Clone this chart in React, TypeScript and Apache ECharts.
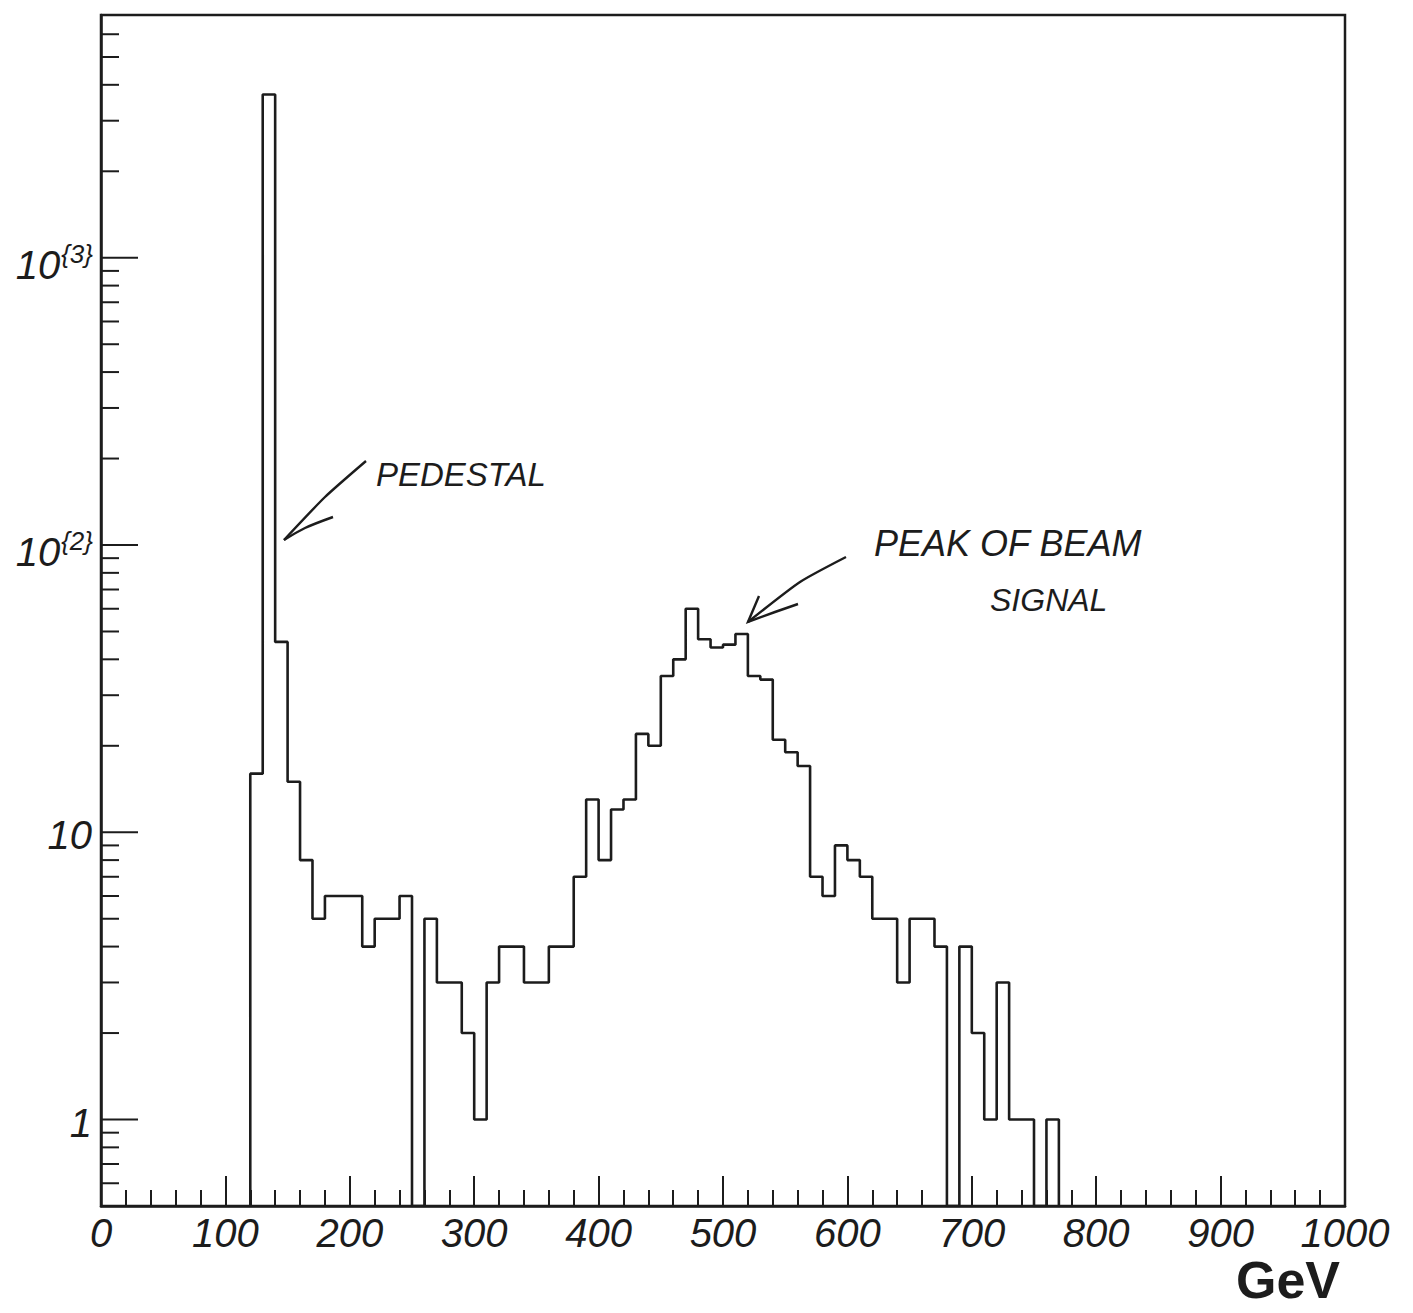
import React, { useEffect, useRef } from 'react';
import * as echarts from 'echarts';

// ---- data ----
const BIN_START = 120; // GeV, low edge of first filled bin
const BIN_WIDTH = 10; // GeV
const COUNTS = [
  16, 3700, 46, 15, 8, 5, 6, 6, 6, 4,
  5, 5, 6, 0, 5, 3, 3, 2, 1, 3,
  4, 4, 3, 3, 4, 4, 7, 13, 8, 12,
  13, 22, 20, 35, 40, 60, 47, 44, 45, 49,
  35, 34, 21, 19, 17, 7, 6, 9, 8, 7,
  5, 5, 3, 5, 5, 4, 0, 4, 2, 1,
  3, 1, 1, 0, 1,
];
const X_MIN = 0;
const X_MAX = 1000;
const X_STEP = 100;
const Y_MIN = 0.5;
const Y_MAX = 7000;
const Y_LABEL_VALUES = [1, 10, 100, 1000];
const Y_LABEL_BASE = ['1', '10', '10', '10'];
const Y_LABEL_EXP = ['', '', '{2}', '{3}'];
const Y_MINOR_TICKS = [
  0.6, 0.7, 0.8, 0.9,
  2, 3, 4, 5, 6, 7, 8, 9,
  20, 30, 40, 50, 60, 70, 80, 90,
  200, 300, 400, 500, 600, 700, 800, 900,
  2000, 3000, 4000, 5000, 6000,
];
const X_TITLE = 'GeV';
const NOTE_PEDESTAL = 'PEDESTAL';
const NOTE_PEAK_1 = 'PEAK OF BEAM';
const NOTE_PEAK_2 = 'SIGNAL';

const INK = '#1c1c1c';
const FONT = '"Liberation Sans", Arial, Helvetica, sans-serif';
const LABEL_SIZE = 40;
const SUP_SIZE = 26;

function measure(text: string, font: string): number {
  const c = document.createElement('canvas').getContext('2d');
  if (!c) return text.length * 12;
  c.font = font;
  return c.measureText(text).width;
}

export default function App() {
  const ref = useRef<HTMLDivElement>(null);

  useEffect(() => {
    if (!ref.current) return;
    const chart = echarts.init(ref.current, undefined, { renderer: 'svg' });

    // histogram outline built from the bins
    const pts: number[][] = [[BIN_START, Y_MIN]];
    COUNTS.forEach((c, i) => {
      const lo = BIN_START + i * BIN_WIDTH;
      const y = c > 0 ? c : Y_MIN;
      pts.push([lo, y], [lo + BIN_WIDTH, y]);
    });
    pts.push([BIN_START + COUNTS.length * BIN_WIDTH, Y_MIN]);

    const tickData = [
      ...Y_LABEL_VALUES.map((v) => [X_MIN, v, 1]),
      ...Y_MINOR_TICKS.map((v) => [X_MIN, v, 0]),
    ];

    const supFont = `italic ${SUP_SIZE}px ${FONT}`;

    chart.setOption({
      animation: false,
      backgroundColor: '#ffffff',
      grid: {
        left: 101,
        right: 68,
        top: 15,
        bottom: 107,
        show: true,
        borderColor: INK,
        borderWidth: 2.5,
        backgroundColor: 'transparent',
      },
      xAxis: {
        type: 'value',
        min: X_MIN,
        max: X_MAX,
        interval: X_STEP,
        axisLine: { show: true, lineStyle: { color: INK, width: 2.5 } },
        axisTick: { show: true, inside: true, length: 30, lineStyle: { color: INK, width: 2 } },
        minorTick: { show: true, splitNumber: 5, length: 16, lineStyle: { color: INK, width: 2 } },
        splitLine: { show: false },
        minorSplitLine: { show: false },
        axisLabel: {
          show: true,
          fontSize: LABEL_SIZE,
          fontStyle: 'italic',
          fontFamily: FONT,
          color: INK,
          margin: 7,
          showMinLabel: true,
          showMaxLabel: true,
          formatter: (v: number) => String(v),
        },
      },
      yAxis: {
        type: 'log',
        logBase: 10,
        min: Y_MIN,
        max: Y_MAX,
        axisLine: { show: true, lineStyle: { color: INK, width: 2.5 } },
        axisTick: { show: false },
        minorTick: { show: false },
        axisLabel: { show: false },
        splitLine: { show: false },
        minorSplitLine: { show: false },
      },
      series: [
        {
          name: 'counts',
          type: 'line',
          data: pts,
          symbol: 'none',
          showSymbol: false,
          lineStyle: { color: INK, width: 2.6 },
          clip: true,
          z: 3,
        },
        {
          name: 'yTicks',
          type: 'custom',
          coordinateSystem: 'cartesian2d',
          silent: true,
          data: tickData,
          encode: { x: 0, y: 1 },
          renderItem: (params: any, api: any) => {
            const p = api.coord([api.value(0), api.value(1)]);
            const len = api.value(2) ? 37 : 18;
            return {
              type: 'line',
              shape: { x1: p[0], y1: p[1], x2: p[0] + len, y2: p[1] },
              style: { stroke: INK, lineWidth: 2 },
            };
          },
          z: 4,
        },
        {
          name: 'yLabels',
          type: 'custom',
          coordinateSystem: 'cartesian2d',
          silent: true,
          data: Y_LABEL_VALUES.map((v, i) => [X_MIN, v, i]),
          encode: { x: 0, y: 1 },
          renderItem: (params: any, api: any) => {
            const i = api.value(2);
            const p = api.coord([api.value(0), api.value(1)]);
            const right = p[0] - 9;
            const base = Y_LABEL_BASE[i];
            const exp = Y_LABEL_EXP[i];
            const baseStyle = {
              fontSize: LABEL_SIZE,
              fontStyle: 'italic',
              fontFamily: FONT,
              fill: INK,
              verticalAlign: 'middle',
            };
            if (!exp) {
              return {
                type: 'text',
                x: right,
                y: p[1] + 3,
                style: { ...baseStyle, text: base, align: 'right' },
              };
            }
            const supW = measure(exp, supFont);
            return {
              type: 'group',
              children: [
                {
                  type: 'text',
                  x: right - supW,
                  y: p[1] + 7,
                  style: { ...baseStyle, text: base, align: 'right' },
                },
                {
                  type: 'text',
                  x: right - supW + 1,
                  y: p[1] - 4,
                  style: {
                    ...baseStyle,
                    fontSize: SUP_SIZE,
                    text: exp,
                    align: 'left',
                  },
                },
              ],
            };
          },
          z: 4,
        },
      ],
      graphic: [
        {
          type: 'text',
          x: 1340,
          y: 1280,
          style: {
            text: X_TITLE,
            fontSize: 52,
            fontWeight: 'bold',
            fontFamily: FONT,
            fill: INK,
            align: 'right',
            verticalAlign: 'middle',
          },
        },
        // pedestal annotation
        {
          type: 'polyline',
          shape: { points: [[366, 461], [325, 497], [284, 540]], smooth: 0.2 },
          style: { stroke: INK, lineWidth: 2.4, fill: 'none' },
        },
        {
          type: 'polyline',
          shape: { points: [[284, 540], [305, 528], [333, 517]], smooth: 0.3 },
          style: { stroke: INK, lineWidth: 2.4, fill: 'none' },
        },
        {
          type: 'text',
          x: 376,
          y: 474,
          style: {
            text: NOTE_PEDESTAL,
            fontSize: 33,
            fontStyle: 'italic',
            fontFamily: FONT,
            fill: INK,
            align: 'left',
            verticalAlign: 'middle',
          },
        },
        // peak annotation
        {
          type: 'polyline',
          shape: { points: [[846, 557], [800, 582], [748, 622]], smooth: 0.2 },
          style: { stroke: INK, lineWidth: 2.4, fill: 'none' },
        },
        {
          type: 'polyline',
          shape: { points: [[759, 596], [748, 622], [775, 612], [798, 604]] },
          style: { stroke: INK, lineWidth: 2.4, fill: 'none' },
        },
        {
          type: 'text',
          x: 874,
          y: 543,
          style: {
            text: NOTE_PEAK_1,
            fontSize: 36,
            fontStyle: 'italic',
            fontFamily: FONT,
            fill: INK,
            align: 'left',
            verticalAlign: 'middle',
          },
        },
        {
          type: 'text',
          x: 990,
          y: 600,
          style: {
            text: NOTE_PEAK_2,
            fontSize: 32,
            fontStyle: 'italic',
            fontFamily: FONT,
            fill: INK,
            align: 'left',
            verticalAlign: 'middle',
          },
        },
      ],
    });

    return () => {
      chart.dispose();
    };
  }, []);

  return (
    <div
      ref={ref}
      style={{ position: 'absolute', left: 0, top: 0, width: 1413, height: 1313, background: '#fff' }}
    />
  );
}
